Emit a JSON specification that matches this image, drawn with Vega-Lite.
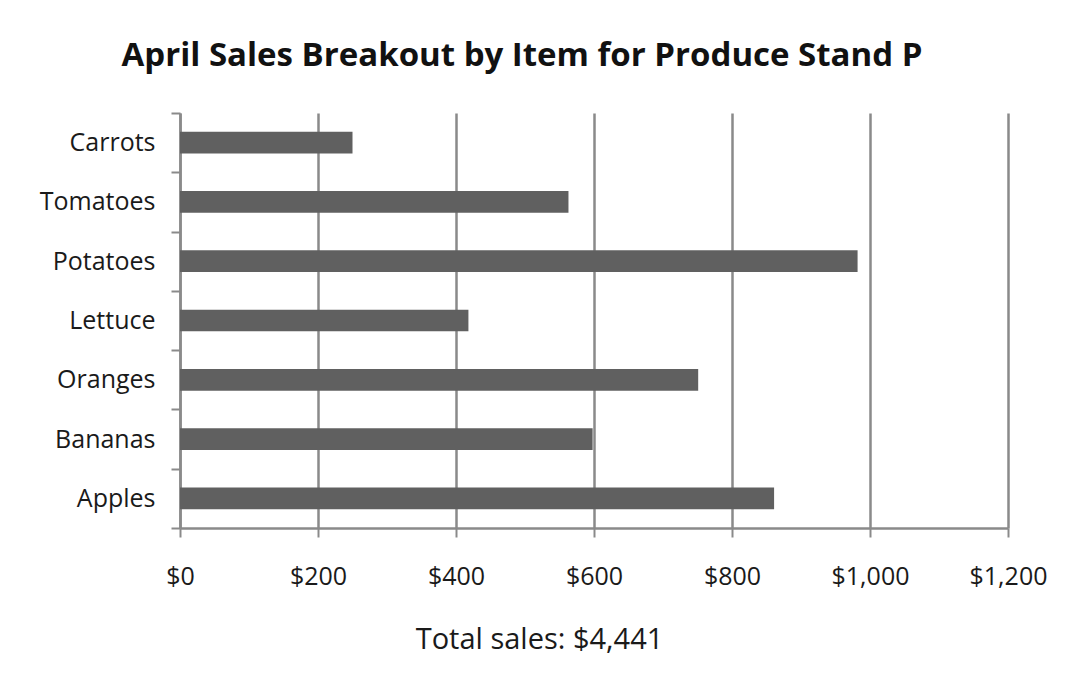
{
  "$schema": "https://vega.github.io/schema/vega-lite/v6.json",
  "autosize": {"type": "none"},
  "width": 828,
  "height": 415,
  "padding": {"left": 180, "top": 113, "right": 62, "bottom": 155},
  "background": "white",
  "title": {
    "text": "April Sales Breakout by Item for Produce Stand P",
    "font": "Open Sans",
    "fontSize": 33,
    "fontWeight": "bold",
    "color": "#111111",
    "anchor": "middle",
    "frame": "group",
    "dx": -72,
    "baseline": "alphabetic",
    "offset": 2
  },
  "data": {
    "values": [
      {"item": "Carrots", "sales": 250},
      {"item": "Tomatoes", "sales": 563},
      {"item": "Potatoes", "sales": 982},
      {"item": "Lettuce", "sales": 418},
      {"item": "Oranges", "sales": 751},
      {"item": "Bananas", "sales": 598},
      {"item": "Apples", "sales": 861}
    ]
  },
  "mark": {"type": "bar", "color": "#606060", "height": {"band": 0.366}},
  "encoding": {
    "y": {
      "field": "item",
      "type": "nominal",
      "sort": ["Carrots", "Tomatoes", "Potatoes", "Lettuce", "Oranges", "Bananas", "Apples"],
      "scale": {"paddingInner": 0, "paddingOuter": 0},
      "axis": {
        "title": null,
        "tickBand": "extent",
        "grid": false,
        "domainColor": "#8a8a8a",
        "domainWidth": 2.5,
        "tickColor": "#8a8a8a",
        "tickWidth": 2,
        "tickSize": 9,
        "labelFont": "Open Sans",
        "labelFontSize": 25,
        "labelColor": "#1a1a1a",
        "labelPadding": 16
      }
    },
    "x": {
      "field": "sales",
      "type": "quantitative",
      "scale": {"domain": [0, 1200], "nice": false},
      "axis": {
        "values": [0, 200, 400, 600, 800, 1000, 1200],
        "format": "$,.0f",
        "labelFlush": false,
        "grid": true,
        "gridColor": "#8a8a8a",
        "gridWidth": 2.5,
        "gridOpacity": 1,
        "domainColor": "#8a8a8a",
        "domainWidth": 2.5,
        "tickColor": "#8a8a8a",
        "tickWidth": 2,
        "tickSize": 9,
        "labelFont": "Open Sans",
        "labelFontSize": 25,
        "labelColor": "#1a1a1a",
        "labelPadding": 27,
        "title": "Total sales: $4,441",
        "titleFont": "Open Sans",
        "titleFontSize": 29,
        "titleFontWeight": "normal",
        "titleColor": "#1a1a1a",
        "titleX": 359,
        "titleY": 120,
        "titleAlign": "center",
        "titleBaseline": "alphabetic"
      }
    }
  },
  "config": {"view": {"stroke": null}}
}
